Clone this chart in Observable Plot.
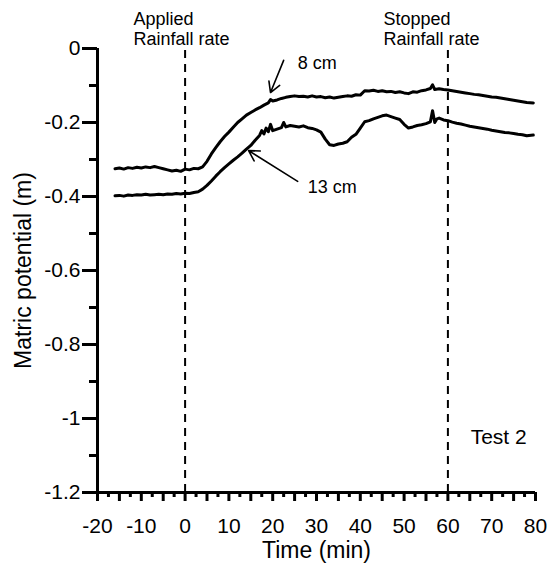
<!DOCTYPE html>
<html>
<head>
<meta charset="utf-8">
<script src="https://cdn.jsdelivr.net/npm/d3@7"></script>
<script src="https://cdn.jsdelivr.net/npm/@observablehq/plot@0.6"></script>
<style>
  html, body { margin: 0; padding: 0; background: #fff; }
  #chart { width: 552px; height: 563px; }
</style>
</head>
<body>
<div id="chart"></div>
<script>
// ---- data ----
const time8 = [-16,-15,-14,-13,-12,-11,-10,-9,-8,-7,-6,-5,-4,-3,-2,-1,0,1,2,3,4,5,6,7,8,9,10,11,12,13,14,15,16,17,18,19,19.5,20,21,22,23,24,25,26,27,28,29,30,31,32,33,34,35,36,37,38,39,40,41,42,43,44,45,46,47,48,49,50,51,52,53,54,55,56,56.5,57,58,59,60,61,62,63,64,65,66,67,68,69,70,71,72,73,74,75,76,77,78,79.5];
const value8 = [-0.325,-0.323,-0.326,-0.322,-0.324,-0.321,-0.323,-0.320,-0.322,-0.319,-0.322,-0.325,-0.328,-0.331,-0.329,-0.332,-0.326,-0.328,-0.324,-0.325,-0.320,-0.305,-0.285,-0.268,-0.252,-0.238,-0.226,-0.213,-0.200,-0.190,-0.180,-0.173,-0.166,-0.160,-0.153,-0.147,-0.138,-0.142,-0.139,-0.135,-0.132,-0.130,-0.128,-0.130,-0.129,-0.131,-0.128,-0.131,-0.130,-0.133,-0.131,-0.134,-0.132,-0.130,-0.128,-0.129,-0.125,-0.126,-0.114,-0.115,-0.113,-0.116,-0.114,-0.117,-0.116,-0.119,-0.117,-0.120,-0.122,-0.117,-0.118,-0.114,-0.112,-0.108,-0.098,-0.111,-0.109,-0.111,-0.112,-0.114,-0.116,-0.118,-0.120,-0.122,-0.124,-0.125,-0.127,-0.129,-0.131,-0.132,-0.134,-0.136,-0.138,-0.140,-0.142,-0.144,-0.146,-0.147];
const time13 = [-16,-15,-14,-13,-12,-11,-10,-9,-8,-7,-6,-5,-4,-3,-2,-1,0,1,2,3,4,5,6,7,8,9,10,11,12,13,14,15,16,17,17.5,18,18.5,19,19.5,20,21,22,22.5,23,24,25,26,27,28,29,30,31,32,33,34,35,36,37,38,39,40,41,42,43,44,45,46,47,48,49,50,51,52,53,54,55,56,56.5,57,57.5,58,59,60,61,62,63,64,65,66,67,68,69,70,71,72,73,74,75,76,77,78,79.5];
const value13 = [-0.398,-0.397,-0.399,-0.396,-0.397,-0.395,-0.396,-0.394,-0.396,-0.395,-0.394,-0.395,-0.393,-0.394,-0.392,-0.393,-0.391,-0.392,-0.389,-0.387,-0.380,-0.370,-0.358,-0.345,-0.333,-0.322,-0.312,-0.302,-0.293,-0.283,-0.272,-0.262,-0.248,-0.235,-0.222,-0.231,-0.215,-0.225,-0.205,-0.222,-0.218,-0.214,-0.200,-0.212,-0.208,-0.210,-0.212,-0.209,-0.214,-0.216,-0.220,-0.226,-0.245,-0.260,-0.262,-0.258,-0.256,-0.252,-0.240,-0.232,-0.215,-0.198,-0.195,-0.190,-0.186,-0.182,-0.180,-0.184,-0.188,-0.192,-0.205,-0.215,-0.212,-0.208,-0.206,-0.203,-0.198,-0.168,-0.200,-0.190,-0.188,-0.193,-0.195,-0.199,-0.202,-0.204,-0.207,-0.210,-0.212,-0.214,-0.216,-0.218,-0.221,-0.223,-0.225,-0.227,-0.228,-0.230,-0.232,-0.233,-0.236,-0.234];

const xLabelTicks = [-20,-10,0,10,20,30,40,50,60,70,80];
const xMajorTicks = [-20,-15,-10,-5,0,5,10,15,20,25,30,35,40,45,50,55,60,65,70,75,80];
const xMinorTicks = [-17.5,-12.5,-7.5,-2.5,2.5,7.5,12.5,17.5,22.5,27.5,32.5,37.5,42.5,47.5,52.5,57.5,62.5,67.5,72.5,77.5];
const yLabelTicks = [0,-0.2,-0.4,-0.6,-0.8,-1,-1.2];
const yMinorTicks = [-0.1,-0.3,-0.5,-0.7,-0.9,-1.1];

const eventTimes = [0, 60];
const eventLabels = [
  {t: -11.8, v: 0, text: "Applied\nRainfall rate"},
  {t: 45.3, v: 0, text: "Stopped\nRainfall rate"}
];
const seriesLabels = [
  {t: 25.7, v: -0.041, text: "8 cm"},
  {t: 28, v: -0.375, text: "13 cm"}
];
const arrows = [
  {t1: 22.5, v1: -0.032, t2: 19.5, v2: -0.119},
  {t1: 25.7, v1: -0.359, t2: 14.5, v2: -0.276}
];
const panelLabel = [{t: 65.2, v: -1.051, text: "Test 2"}];

// ---- build ----
const data8 = time8.map((t, i) => ({t, v: value8[i]}));
const data13 = time13.map((t, i) => ({t, v: value13[i]}));
const fmt = d => String(+(+d).toFixed(1));
const FS = 18;
const TICKFS = 21;
const TITLEFS = 23;

const chart = Plot.plot({
  width: 552,
  height: 563,
  marginLeft: 97,
  marginRight: 17,
  marginTop: 48,
  marginBottom: 71,
  style: {fontFamily: "'Liberation Sans', Arial, sans-serif", background: "#fff", color: "#000"},
  x: {domain: [-20, 80], label: null},
  y: {domain: [-1.2, 0], label: null},
  marks: [
    // dashed event lines
    Plot.ruleX(eventTimes, {y1: -1.2, y2: 0, stroke: "#000", strokeWidth: 2, strokeDasharray: "8,6"}),
    // data
    Plot.line(data8, {x: "t", y: "v", stroke: "#000", strokeWidth: 3, strokeLinejoin: "round"}),
    Plot.line(data13, {x: "t", y: "v", stroke: "#000", strokeWidth: 3, strokeLinejoin: "round"}),
    // axes
    Plot.axisY(yLabelTicks, {tickSize: 15, strokeWidth: 3, tickFormat: () => "", label: null}),
    Plot.axisY(yMinorTicks, {tickSize: 8, strokeWidth: 3, tickFormat: () => "", label: null}),
    Plot.axisY(yLabelTicks, {tickSize: 0, tickPadding: 17, fontSize: TICKFS, tickFormat: fmt, label: null}),
    Plot.axisX(xMajorTicks, {tickSize: 9, strokeWidth: 3, tickFormat: () => "", label: null}),
    Plot.axisX(xMinorTicks, {tickSize: 5, strokeWidth: 3, tickFormat: () => "", label: null}),
    Plot.axisX(xLabelTicks, {tickSize: 0, tickPadding: 26, fontSize: TICKFS, tickFormat: fmt, label: null}),
    Plot.ruleX([-20], {y1: -1.2, y2: 0, stroke: "#000", strokeWidth: 3}),
    Plot.ruleY([-1.2], {x1: -20, x2: 80, stroke: "#000", strokeWidth: 3}),
    // axis titles
    Plot.text(["Time (min)"], {frameAnchor: "bottom", dy: 58, textAnchor: "middle", lineAnchor: "middle", fontSize: TITLEFS, fill: "#000"}),
    Plot.text(["Matric potential (m)"], {frameAnchor: "left", rotate: -90, dx: -74, textAnchor: "middle", lineAnchor: "middle", fontSize: TITLEFS, fill: "#000"}),
    // annotations
    Plot.text(eventLabels, {x: "t", y: "v", text: "text", textAnchor: "start", lineAnchor: "middle", lineHeight: 1.1, dy: -20, fontSize: FS, fill: "#000"}),
    Plot.text(seriesLabels, {x: "t", y: "v", text: "text", textAnchor: "start", lineAnchor: "middle", fontSize: FS, fill: "#000"}),
    Plot.arrow(arrows, {x1: "t1", y1: "v1", x2: "t2", y2: "v2", stroke: "#000", strokeWidth: 1.6, headLength: 11, bend: 0}),
    Plot.text(panelLabel, {x: "t", y: "v", text: "text", textAnchor: "start", lineAnchor: "middle", fontSize: 21, fill: "#000"})
  ]
});
document.getElementById("chart").appendChild(chart);
</script>
</body>
</html>
